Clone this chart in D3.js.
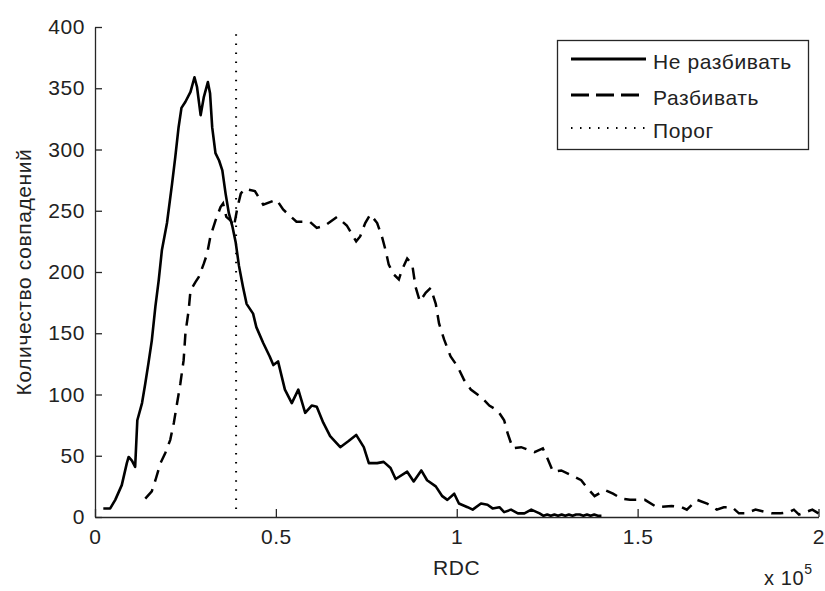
<!DOCTYPE html>
<html>
<head>
<meta charset="utf-8">
<script src="https://d3js.org/d3.v7.min.js"></script>
<style>
  body { margin: 0; background: #fff; }
  text { font-family: "Liberation Sans", Arial, sans-serif; fill: #222; letter-spacing: 0.6px; }
</style>
</head>
<body>
<div id="chart"></div>
<script>
// RDC values are in units of 1e5
const solidX = [0.023,0.042,0.056,0.074,0.088,0.093,0.102,0.111,0.117,0.130,
  0.139,0.148,0.157,0.167,0.176,0.185,0.199,0.213,0.222,0.231,
  0.239,0.250,0.264,0.275,0.282,0.292,0.301,0.312,0.318,0.324,
  0.333,0.343,0.352,0.361,0.370,0.380,0.389,0.398,0.409,0.419,
  0.437,0.446,0.465,0.483,0.493,0.506,0.525,0.544,0.562,0.581,
  0.599,0.613,0.631,0.650,0.678,0.701,0.722,0.743,0.757,0.780,
  0.798,0.817,0.831,0.863,0.881,0.902,0.918,0.942,0.960,0.974,
  0.993,1.006,1.030,1.044,1.067,1.085,1.099,1.118,1.131,1.150,
  1.169,1.187,1.206,1.229,1.24,1.25,1.26,1.27,1.28,1.29,
  1.30,1.31,1.32,1.33,1.34,1.35,1.36,1.37,1.38,1.39,1.40]
const solidY = [7,7,14,26,44,49,46,41,79,93,
  109,126,144,172,193,218,240,272,294,318,
  334,339,347,359,351,328,343,355,346,318,
  297,291,283,264,248,237,224,205,188,174,
  166,155,142,131,124,127,104,93,104,85,
  91,90,77,66,57,62,67,57,44,44,
  45,40,31,37,29,38,30,25,17,14,
  19,11,8,6,11,10,7,8,4,6,
  3,3,6,3,1,2,1,2,1,2,
  1,2,1,2,2,1,2,1,2,1,1]

const dashX = [0.139,0.157,0.167,0.181,0.194,0.208,0.218,0.227,0.236,0.245,
  0.250,0.259,0.264,0.278,0.287,0.301,0.310,0.319,0.333,0.347,
  0.354,0.363,0.375,0.384,0.394,0.403,0.414,0.442,0.465,0.502,
  0.520,0.557,0.594,0.613,0.636,0.669,0.696,0.722,0.733,0.747,
  0.761,0.780,0.794,0.803,0.812,0.826,0.840,0.849,0.863,0.877,
  0.886,0.898,0.914,0.928,0.942,0.951,0.965,0.983,1.002,1.020,
  1.039,1.067,1.090,1.113,1.131,1.141,1.155,1.178,1.196,1.215,
  1.238,1.252,1.266,1.289,1.317,1.344,1.363,1.381,1.409,1.432,
  1.456,1.479,1.520,1.553,1.594,1.622,1.636,1.664,1.692,1.719,
  1.738,1.761,1.780,1.798,1.826,1.854,1.872,1.895,1.919,1.932,
  1.946,1.965,1.983,2.000]
const dashY = [15,21,30,44,52,63,77,93,109,128,
  150,169,185,192,196,207,215,229,242,253,
  256,245,242,237,253,264,268,266,255,259,
  251,241,241,236,238,245,238,225,229,240,
  247,240,228,218,206,198,194,202,211,206,
  188,176,183,187,174,158,145,131,123,112,
  104,98,91,87,79,68,56,57,55,53,
  56,47,37,38,34,30,23,17,22,19,
  15,14,14,8,9,8,6,14,11,6,
  8,8,3,3,6,4,3,3,4,6,
  2,4,6,3]

const threshold = 0.39
const thresholdTop = 395

const xTicks = [0, 0.5, 1, 1.5, 2]
const yTicks = [0, 50, 100, 150, 200, 250, 300, 350, 400]
const legendLabels = ["Не разбивать", "Разбивать", "Порог"]

const width = 825
const height = 591
const plotLeft = 95, plotRight = 818.5, plotTop = 27, plotBottom = 517

const svg = d3.select("#chart")
  .append("svg")
  .attr("width", width)
  .attr("height", height)

const x = d3.scaleLinear().domain([0, 2]).range([plotLeft, plotRight])
const y = d3.scaleLinear().domain([0, 400]).range([plotBottom, plotTop])

// axes, MATLAB style: ticks inward, no box
svg.append("g")
  .attr("transform", `translate(0,${plotBottom})`)
  .call(d3.axisBottom(x).tickValues(xTicks).tickFormat(d3.format("")).tickSizeInner(-8).tickSizeOuter(0).tickPadding(12))
svg.append("g")
  .attr("transform", `translate(${plotLeft},0)`)
  .call(d3.axisLeft(y).tickValues(yTicks).tickSizeInner(-7).tickSizeOuter(0).tickPadding(10))

svg.selectAll(".domain, .tick line")
  .attr("stroke", "#262626")
  .attr("stroke-width", 1.3)
svg.selectAll(".tick text")
  .style("font-size", "21px")
  .attr("fill", "#222")

const line = d3.line()
  .x((d) => x(d[0]))
  .y((d) => y(d[1]))

svg.append("path")
  .datum(solidX.map((v, i) => [v, solidY[i]]))
  .attr("d", line)
  .attr("fill", "none")
  .attr("stroke", "#000")
  .attr("stroke-width", 2.6)
  .attr("stroke-linejoin", "round")

svg.append("path")
  .datum(dashX.map((v, i) => [v, dashY[i]]))
  .attr("d", line)
  .attr("fill", "none")
  .attr("stroke", "#000")
  .attr("stroke-width", 2.5)
  .attr("stroke-dasharray", "12,8")

svg.append("line")
  .attr("x1", x(threshold)).attr("x2", x(threshold))
  .attr("y1", y(0) - 8).attr("y2", y(thresholdTop))
  .attr("stroke", "#000")
  .attr("stroke-width", 2)
  .attr("stroke-dasharray", "1.5,7.6")

// labels
svg.append("text")
  .attr("x", (plotLeft + plotRight) / 2)
  .attr("y", 575)
  .attr("text-anchor", "middle")
  .style("font-size", "21px")
  .text("RDC")

svg.append("text")
  .attr("transform", `translate(31,${(plotTop + plotBottom) / 2}) rotate(-90)`)
  .attr("text-anchor", "middle")
  .style("font-size", "21px")
  .text("Количество совпадений")

const mult = svg.append("text")
  .attr("x", 764)
  .attr("y", 585)
  .style("font-size", "20px")
mult.append("tspan").text("x 10")
mult.append("tspan").attr("dy", -11).style("font-size", "14px").text("5")

// legend
const legend = svg.append("g")
legend.append("rect")
  .attr("x", 557.5).attr("y", 40.5)
  .attr("width", 251).attr("height", 109)
  .attr("fill", "#fff")
  .attr("stroke", "#262626")
  .attr("stroke-width", 1.3)

const rowY = [59, 95, 128]
const rowDash = [null, "18,7", "1.5,7.5"]
const rowWidth = [3, 3, 2]
legendLabels.forEach((label, i) => {
  legend.append("line")
    .attr("x1", 571).attr("x2", 646)
    .attr("y1", rowY[i]).attr("y2", rowY[i])
    .attr("stroke", "#000")
    .attr("stroke-width", rowWidth[i])
    .attr("stroke-dasharray", rowDash[i])
  legend.append("text")
    .attr("x", 653)
    .attr("y", rowY[i] + 10)
    .style("font-size", "21px")
    .text(label)
})
</script>
</body>
</html>
